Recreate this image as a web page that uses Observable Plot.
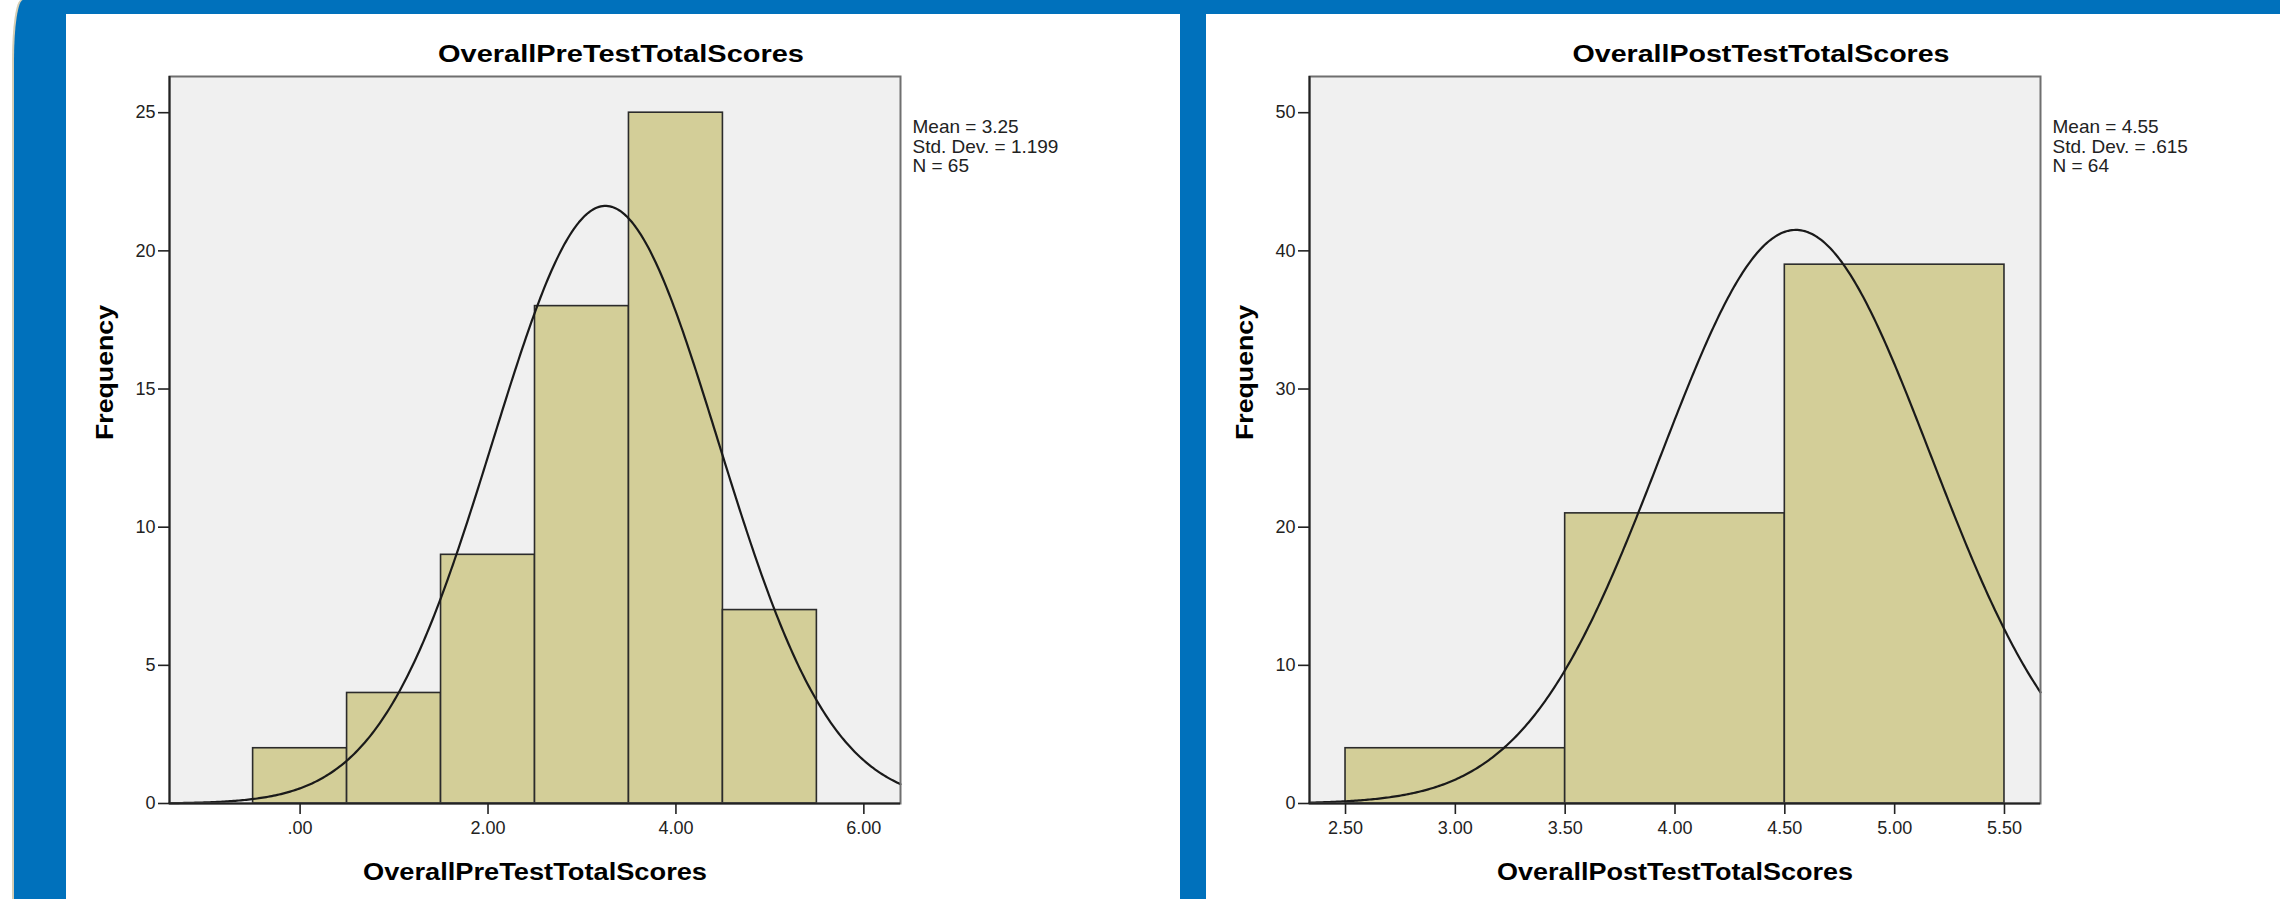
<!DOCTYPE html>
<html>
<head>
<meta charset="utf-8">
<script src="https://cdn.jsdelivr.net/npm/d3@7"></script>
<script src="https://cdn.jsdelivr.net/npm/@observablehq/plot@0.6"></script>
<style>
  html, body { margin: 0; padding: 0; background: #ffffff; }
  body { width: 2280px; height: 899px; position: relative; overflow: hidden; font-family: "Liberation Sans", Arial, sans-serif; }
  #blue { position: absolute; left: 14px; top: 0; width: 2266px; height: 899px; background: #0071bc;
          border-top-left-radius: 9px 60px; box-shadow: -2px 0 0 #d6ceb4; }
  .panel { position: absolute; top: 14px; height: 885px; background: #ffffff; }
  #left { left: 66px; width: 1114px; }
  #right { left: 1206px; width: 1074px; }
  .panel svg { position: absolute; left: 0; top: 0; overflow: visible; }
</style>
</head>
<body>
<div id="blue"></div>
<div class="panel" id="left"></div>
<div class="panel" id="right"></div>
<script>
// ---------- data ----------
const preBinStart = [-0.5, 0.5, 1.5, 2.5, 3.5, 4.5];
const preBinEnd   = [0.5, 1.5, 2.5, 3.5, 4.5, 5.5];
const preCounts   = [2, 4, 9, 18, 25, 7];
const preMean = 3.25, preSD = 1.199, preN = 65;
const preXTicks = [0, 2, 4, 6];
const preXTickLabels = [".00", "2.00", "4.00", "6.00"];
const preYTicks = [0, 5, 10, 15, 20, 25];
const preXDomain = [-1.39, 6.39];
const preYMax = 26.31;

const postBinStart = [2.5, 3.5, 4.5];
const postBinEnd   = [3.5, 4.5, 5.5];
const postCounts   = [4, 21, 39];
const postMean = 4.55, postSD = 0.615, postN = 64;
const postXTicks = [2.5, 3.0, 3.5, 4.0, 4.5, 5.0, 5.5];
const postXTickLabels = ["2.50", "3.00", "3.50", "4.00", "4.50", "5.00", "5.50"];
const postYTicks = [0, 10, 20, 30, 40, 50];
const postXDomain = [2.336, 5.664];
const postYMax = 52.62;

const preTitle = "OverallPreTestTotalScores";
const postTitle = "OverallPostTestTotalScores";
const yTitle = "Frequency";
const preStats = ["Mean = 3.25", "Std. Dev. = 1.199", "N = 65"];
const postStats = ["Mean = 4.55", "Std. Dev. = .615", "N = 64"];

// ---------- helpers ----------
function normalCurve(mean, sd, n, binWidth, domain) {
  const pts = [];
  const steps = 400;
  for (let i = 0; i <= steps; i++) {
    const x = domain[0] + (domain[1] - domain[0]) * i / steps;
    const z = (x - mean) / sd;
    pts.push({x, y: n * binWidth * Math.exp(-0.5 * z * z) / (sd * Math.sqrt(2 * Math.PI))});
  }
  return pts;
}

function panel(o) {
  const bold = {fontSize: 23, fontWeight: "bold", fill: "#000", text: d => d};
  return Plot.plot({
    width: o.width, height: 885,
    marginLeft: 103, marginRight: o.width - 103 - 731, marginTop: 62, marginBottom: 96,
    x: {domain: o.xDomain},
    y: {domain: [0, o.yMax]},
    style: {background: "transparent", fontFamily: "'Liberation Sans', Arial, sans-serif", fontSize: "18px", color: "#222", overflow: "visible"},
    marks: [
      Plot.frame({fill: "#f0f0f0", stroke: null}),
      Plot.rectY(o.counts, {x1: o.binStart, x2: o.binEnd, y: o.counts, fill: "#d3ce98", stroke: "#2b2b2b", strokeWidth: 1.6}),
      Plot.line(normalCurve(o.mean, o.sd, o.n, 1, o.xDomain), {x: "x", y: "y", stroke: "#1a1a1a", strokeWidth: 2.2}),
      Plot.frame({stroke: "#6f6f6f", strokeWidth: 2}),
      Plot.ruleX([o.xDomain[0]], {stroke: "#222", strokeWidth: 2}),
      Plot.ruleY([0], {stroke: "#222", strokeWidth: 2}),
      Plot.axisX({ticks: o.xTicks, tickFormat: d => o.xTickLabels[o.xTicks.indexOf(d)], tickSize: 11, tickPadding: 7, label: null, fontSize: 18, strokeWidth: 1.6}),
      Plot.axisY({ticks: o.yTicks, tickSize: 11, tickPadding: 3, label: null, fontSize: 18, strokeWidth: 1.6}),
      Plot.text([o.title], {...bold, frameAnchor: "top", dx: 86, dy: -22, lineAnchor: "middle"}),
      Plot.text([o.title], {...bold, frameAnchor: "bottom", dy: 69, lineAnchor: "middle"}),
      Plot.text([yTitle], {...bold, frameAnchor: "left", rotate: -90, dx: -64, lineAnchor: "middle"}),
      Plot.text([o.stats.join("\n")], {text: d => d, frameAnchor: "top-right", textAnchor: "start", lineAnchor: "top", dx: 12, dy: 43, fontSize: 19, lineHeight: 1.02, fill: "#222"})
    ]
  });
}

const left = panel({width: 1114, xDomain: preXDomain, yMax: preYMax, counts: preCounts, binStart: preBinStart, binEnd: preBinEnd,
  mean: preMean, sd: preSD, n: preN, xTicks: preXTicks, xTickLabels: preXTickLabels, yTicks: preYTicks, title: preTitle, stats: preStats});
const right = panel({width: 1074, xDomain: postXDomain, yMax: postYMax, counts: postCounts, binStart: postBinStart, binEnd: postBinEnd,
  mean: postMean, sd: postSD, n: postN, xTicks: postXTicks, xTickLabels: postXTickLabels, yTicks: postYTicks, title: postTitle, stats: postStats});
document.getElementById("left").appendChild(left);
document.getElementById("right").appendChild(right);

// stretch bold titles horizontally like the reference
function stretch(svg, widths) {
  const seen = {};
  for (const t of svg.querySelectorAll("text")) {
    const s = t.textContent;
    if (widths[s]) {
      seen[s] = (seen[s] || 0);
      const w = widths[s][seen[s]];
      seen[s]++;
      if (w) { t.setAttribute("textLength", w); t.setAttribute("lengthAdjust", "spacingAndGlyphs"); }
    }
  }
}
stretch(left, {[preTitle]: [366, 344], [yTitle]: [135]});
stretch(right, {[postTitle]: [377, 356], [yTitle]: [135]});
</script>
</body>
</html>
